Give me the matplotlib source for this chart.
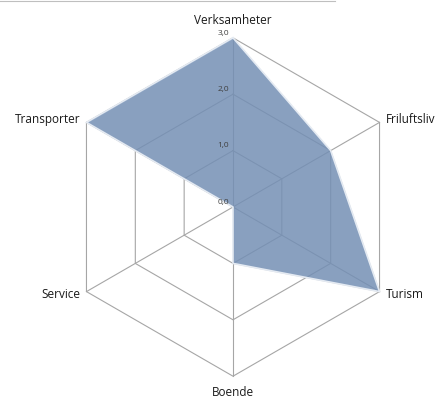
import matplotlib.pyplot as plt
import numpy as np
from matplotlib.lines import Line2D

# data
categories = ["Verksamheter", "Friluftsliv", "Turism", "Boende", "Service", "Transporter"]
values = [3.0, 2.0, 3.0, 1.0, 0.0, 3.0]
ticks = [0.0, 1.0, 2.0, 3.0]
tick_labels = ["0,0", "1,0", "2,0", "3,0"]

plt.rcParams["font.family"] = ["Open Sans", "DejaVu Sans"]

W, H = 442, 400
cx, cy = 233, 207  # centre in pixels (from top-left)
px_per_unit = 56.4

fig = plt.figure(figsize=(W / 100, H / 100), dpi=100)
ax = fig.add_axes([0, 0, 1, 1])
ax.set_xlim(-cx / px_per_unit, (W - cx) / px_per_unit)
ax.set_ylim(-(H - cy) / px_per_unit, cy / px_per_unit)
ax.set_aspect("equal")
ax.axis("off")

n = len(categories)
angles = np.pi / 2 - np.arange(n) * 2 * np.pi / n
rmax = max(ticks)

grid_col = "#A6A6A6"
# hexagonal rings
for t in ticks[1:]:
    xs = np.append(t * np.cos(angles), t * np.cos(angles[0]))
    ys = np.append(t * np.sin(angles), t * np.sin(angles[0]))
    ax.plot(xs, ys, color=grid_col, lw=0.8, zorder=1)
# spokes
for a in angles:
    ax.plot([0, rmax * np.cos(a)], [0, rmax * np.sin(a)], color=grid_col, lw=0.8, zorder=1)

# data polygon
v = np.array(values)
px = v * np.cos(angles)
py = v * np.sin(angles)
ax.fill(px + 0.015, py - 0.015, color="#B0B0B0", alpha=0.5, lw=0, zorder=2)
ax.fill(px, py, facecolor="#6587B5", alpha=0.68, edgecolor="none", zorder=3)
ax.plot(np.append(px, px[0]), np.append(py, py[0]), color="#E4EAF2", lw=1.2, zorder=4)

# tick labels
for t, lab in zip(ticks, tick_labels):
    ax.text(-0.07, t + 0.02, lab, ha="right", va="bottom", fontsize=6, color="#404040", zorder=5)

# category labels
off = 0.12
for cat, a in zip(categories, angles):
    x = (rmax + off) * np.cos(a)
    y = (rmax + off) * np.sin(a)
    c = np.cos(a)
    if abs(c) < 1e-6:
        ha = "center"
        if np.sin(a) > 0:
            va, y = "bottom", rmax + 0.19
        else:
            va, y = "top", -(rmax + 0.17)
    else:
        ha = "left" if c > 0 else "right"
        va = "center"
    ax.text(x, y, cat, ha=ha, va=va, fontsize=8.5, color="#1A1A1A")

# thin border line at top
fig.add_artist(Line2D([0, 335 / W], [0.998, 0.998], color="#BFBFBF", lw=0.8))

fig.savefig("out.png", dpi=100)
